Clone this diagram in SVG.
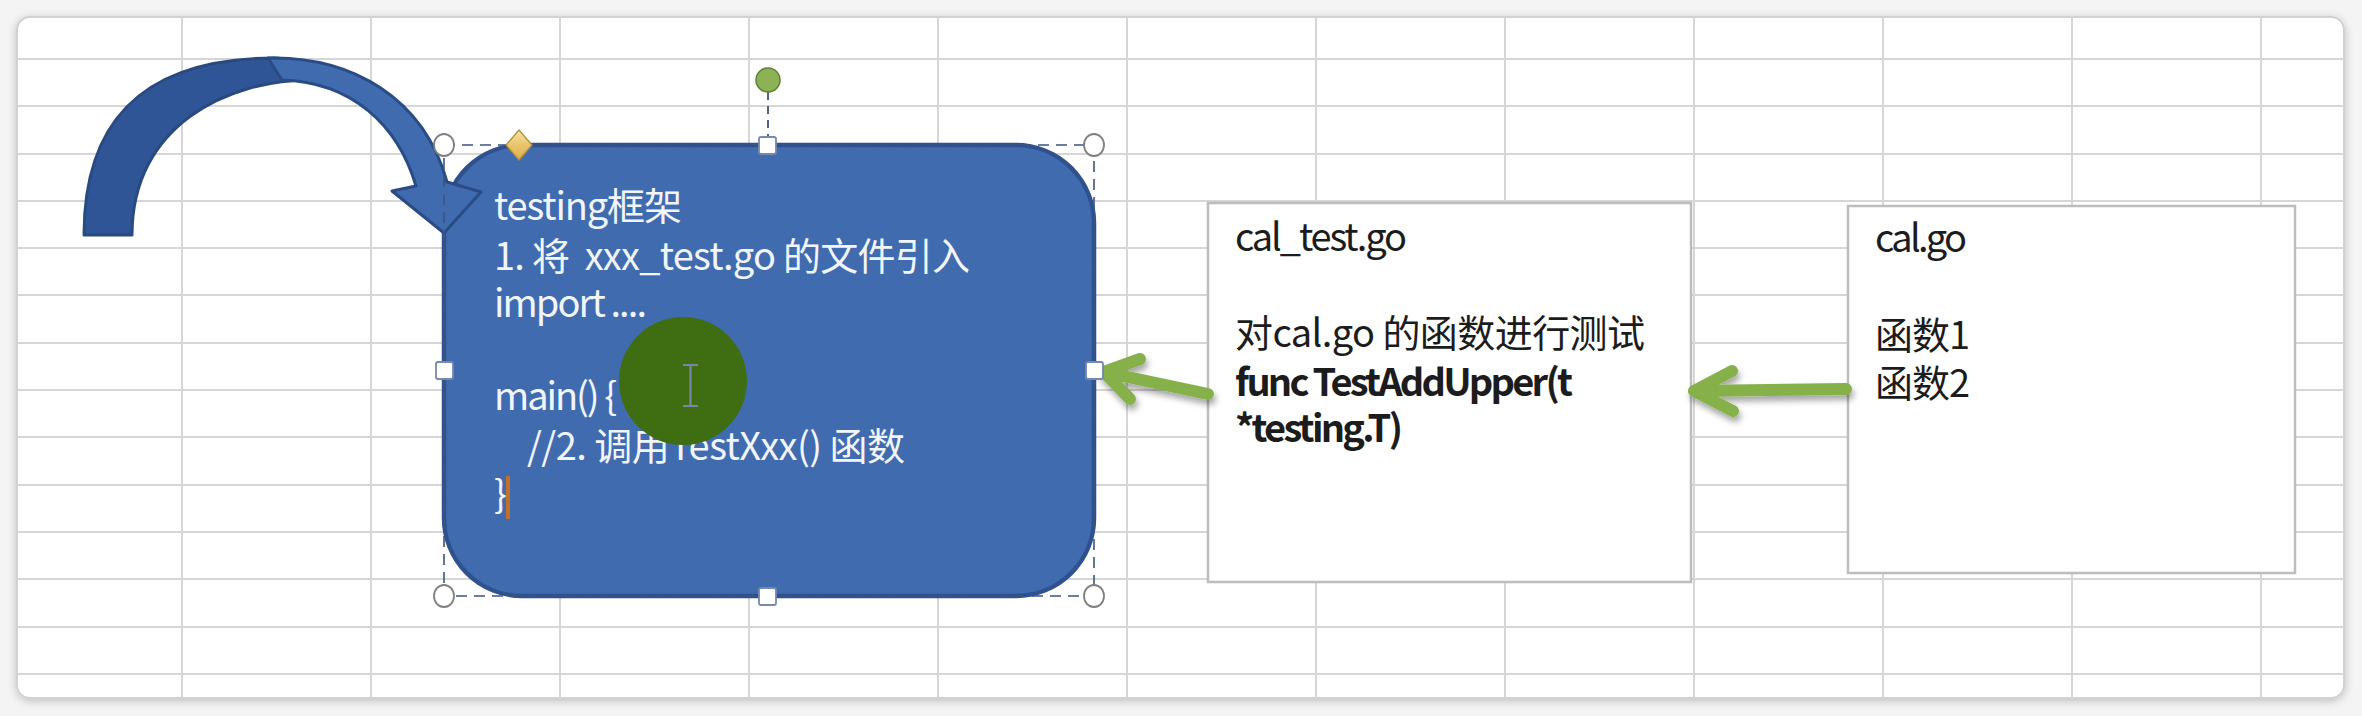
<svg xmlns="http://www.w3.org/2000/svg" width="2362" height="716" viewBox="0 0 2362 716">
<defs>
  <style>
    .grid { stroke: #d6d6d6; stroke-width: 2; fill: none; }
    .txt { font-family: 'Noto Sans CJK SC', 'Noto Sans', sans-serif; font-size: 38px; white-space: pre; }
    .wt { fill: #f2f5fb; }
    .dk { fill: #1c1c1c; }
    .bd { font-weight: bold; }
    .box { fill: #ffffff; stroke: #bdbdbd; stroke-width: 2.5; }
    .garrow { fill: none; stroke: #86b04a; stroke-width: 12; stroke-linecap: round; stroke-linejoin: round; }
    .sel { fill: none; stroke: #3c5480; stroke-width: 1.6; stroke-dasharray: 11 7; }
    .hc { fill: #ffffff; stroke: #7f7f7f; stroke-width: 1.8; }
    .hs { fill: #ffffff; stroke: #7488b0; stroke-width: 1.8; }
  </style>
  <filter id="cardShadow" x="-5%" y="-5%" width="110%" height="110%">
    <feDropShadow dx="0" dy="2" stdDeviation="4" flood-color="#000" flood-opacity="0.22"/>
  </filter>
  <filter id="arrShadow" x="-20%" y="-50%" width="140%" height="200%">
    <feDropShadow dx="2" dy="5" stdDeviation="3" flood-color="#000" flood-opacity="0.35"/>
  </filter>
  <clipPath id="cardClip">
    <rect x="17" y="17" width="2327" height="681" rx="13"/>
  </clipPath>
  <linearGradient id="diam" x1="0" y1="0" x2="0" y2="1">
    <stop offset="0" stop-color="#f6e3a6"/>
    <stop offset="0.5" stop-color="#e9c56a"/>
    <stop offset="1" stop-color="#d9ae4c"/>
  </linearGradient>
</defs>

<rect x="0" y="0" width="2362" height="716" fill="#f4f4f4"/>
<rect x="17" y="17" width="2327" height="681" rx="13" fill="#ffffff" stroke="#d2d2d2" stroke-width="2" filter="url(#cardShadow)"/>

<g id="grid" clip-path="url(#cardClip)">
  <path class="grid" d="M182,17V698 M371,17V698 M560,17V698 M749,17V698 M938,17V698 M1127,17V698 M1316,17V698 M1505,17V698 M1694,17V698 M1883,17V698 M2072,17V698 M2261,17V698"/>
  <path class="grid" d="M17,59H2344 M17,106H2344 M17,154H2344 M17,201H2344 M17,248H2344 M17,295H2344 M17,343H2344 M17,390H2344 M17,437H2344 M17,485H2344 M17,532H2344 M17,579H2344 M17,627H2344 M17,674H2344"/>
</g>

<g id="node-cal-test">
  <rect class="box" x="1208" y="203" width="483" height="379"/>
  <text class="txt dk" x="1235" y="251" textLength="172" lengthAdjust="spacing">cal_test.go</text>
  <text class="txt dk" x="1235" y="347" textLength="410" lengthAdjust="spacing">对cal.go 的函数进行测试</text>
  <text class="txt dk bd" x="1235" y="396" textLength="338" lengthAdjust="spacing">func TestAddUpper(t</text>
  <text class="txt dk bd" x="1235" y="442" textLength="168" lengthAdjust="spacing">*testing.T)</text>
</g>

<g id="node-cal">
  <rect class="box" x="1848" y="206" width="447" height="367"/>
  <text class="txt dk" x="1875" y="252" textLength="92" lengthAdjust="spacing">cal.go</text>
  <text class="txt dk" x="1875" y="349" textLength="95" lengthAdjust="spacing">函数1</text>
  <text class="txt dk" x="1875" y="397" textLength="95" lengthAdjust="spacing">函数2</text>
</g>

<g id="connectors">
  <g filter="url(#arrShadow)">
    <path class="garrow" d="M1208,394 L1104,372 M1140,359 L1104,372 L1130,399"/>
    <path class="garrow" d="M1846,389 L1694,391 M1732,371 L1694,391 L1733,411"/>
  </g>
</g>

<g id="node-testing">
  <rect x="444" y="145" width="650" height="451" rx="78" fill="#406caf" stroke="#2f528f" stroke-width="4.5"/>
  <text class="txt wt" x="494" y="220" textLength="188" lengthAdjust="spacing">testing框架</text>
  <text class="txt wt" x="494" y="270" textLength="476" lengthAdjust="spacing">1. 将  xxx_test.go 的文件引入</text>
  <text class="txt wt" x="494" y="317" textLength="153" lengthAdjust="spacing">import ....</text>
  <text class="txt wt" x="494" y="410" textLength="123" lengthAdjust="spacing">main() {</text>
  <text class="txt wt" x="527" y="460" textLength="378" lengthAdjust="spacing">//2. 调用TestXxx() 函数</text>
  <text class="txt wt" x="494" y="508">}</text>
  <rect x="506" y="476" width="4" height="43" fill="#c0702a"/>
  <circle cx="683" cy="381" r="64" fill="#3f6d12"/>
  <path d="M683,365 H698 M690.5,365 V406 M683,406 H698" stroke="#7a86a8" stroke-width="2.2" fill="none"/>
</g>

<g id="node-curved-arrow">
  <path d="M84,235 C84,105 160,58 275,58 L300,60 L310,80 C228,80 132,125 132,235 Z" fill="#2f5597" stroke="#284a80" stroke-width="3" stroke-linejoin="round"/>
  <path d="M268,58 C352,56 424,98 447,182 L481,192 L444,233 L392,191 L416,186 C398,125 352,82 282,80 Z" fill="#406caf" stroke="#2a4c86" stroke-width="3" stroke-linejoin="round"/>
</g>

<g id="selection">
  <rect class="sel" x="444" y="145" width="650" height="451"/>
  <line x1="768" y1="92" x2="768" y2="137" stroke="#3c5480" stroke-width="1.8" stroke-dasharray="8 6"/>
  <circle cx="768" cy="80" r="12" fill="#8db255" stroke="#5f7f33" stroke-width="1.5"/>
  <path d="M519,130 L532,145 L519,160 L506,145 Z" fill="url(#diam)" stroke="#b38f3a" stroke-width="1.3"/>
  <ellipse class="hc" cx="444" cy="145" rx="10" ry="11"/>
  <ellipse class="hc" cx="1094" cy="145" rx="10" ry="11"/>
  <ellipse class="hc" cx="444" cy="596" rx="10" ry="11"/>
  <ellipse class="hc" cx="1094" cy="596" rx="10" ry="11"/>
  <rect class="hs" x="759" y="137" width="17" height="17" rx="2"/>
  <rect class="hs" x="759" y="588" width="17" height="17" rx="2"/>
  <rect class="hs" x="436" y="362" width="17" height="17" rx="2"/>
  <rect class="hs" x="1086" y="362" width="17" height="17" rx="2"/>
</g>
</svg>
